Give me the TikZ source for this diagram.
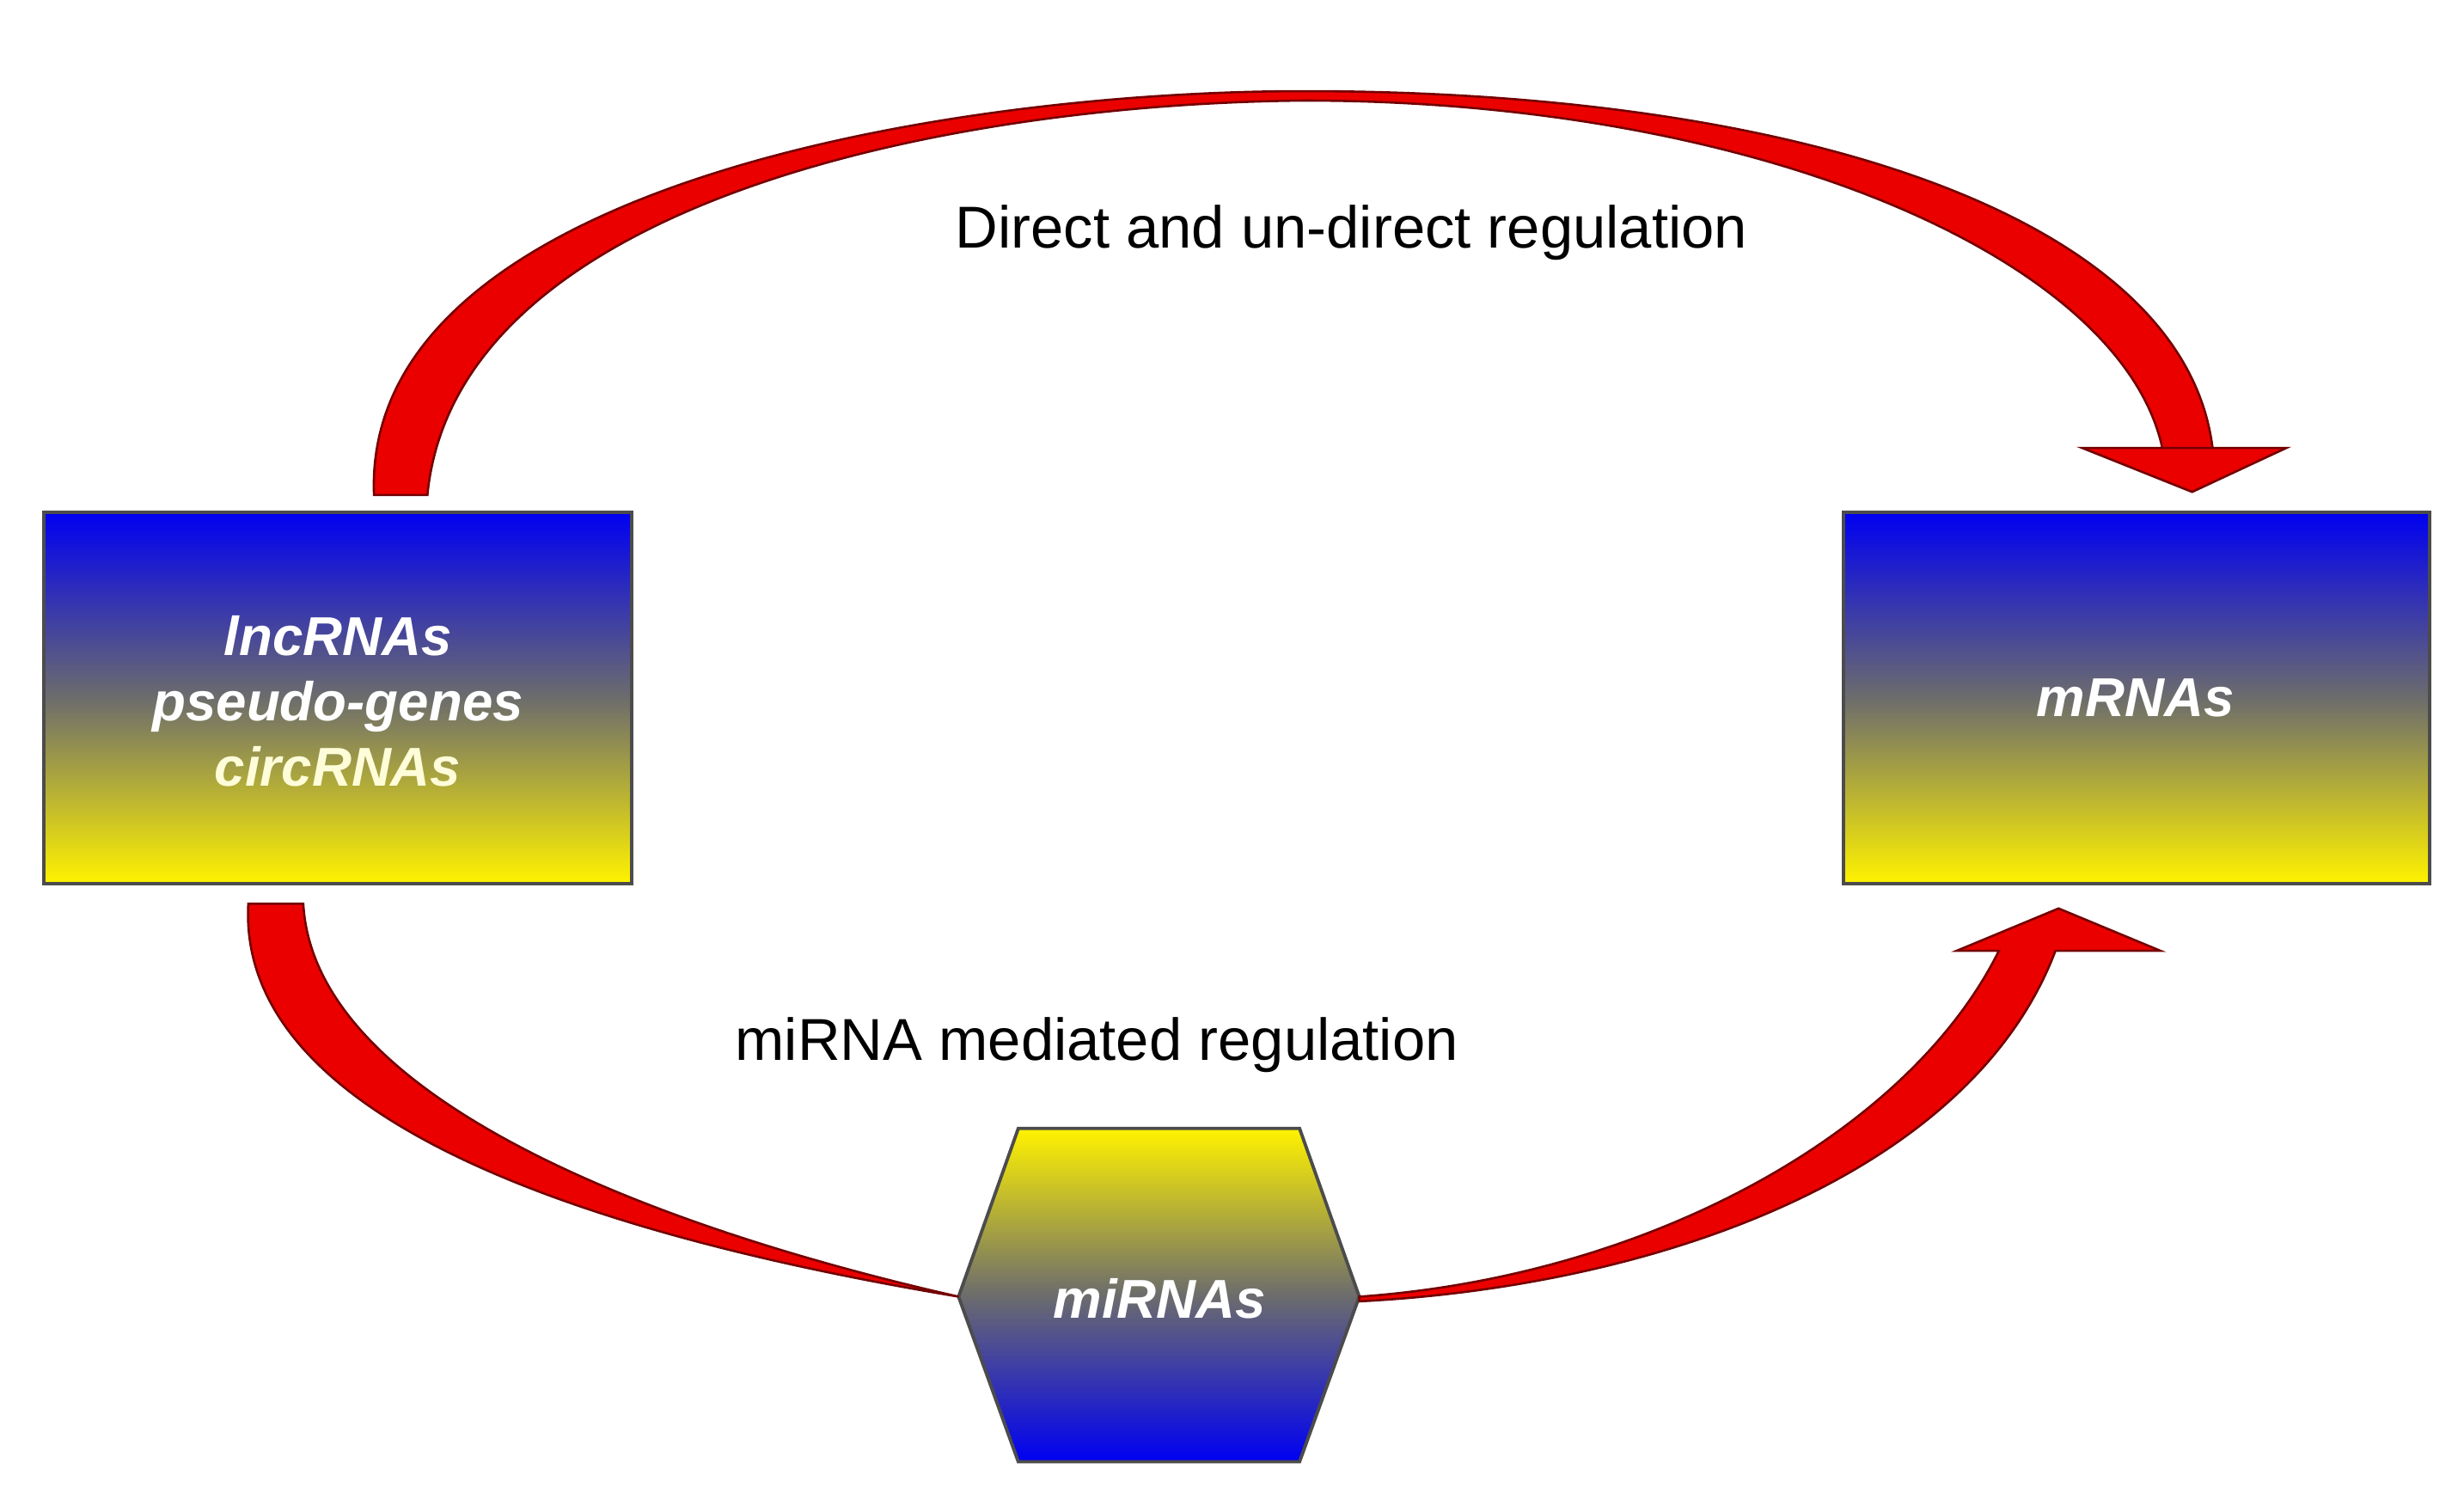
\documentclass[tikz,border=0pt]{standalone}
\usepackage{fontspec}
\setmainfont{Liberation Sans}
\begin{document}
\begin{tikzpicture}[x=0.01cm,y=-0.01cm,
  box/.style={draw=black!70,line width=0.6pt,top color=blue!95!black,bottom color=yellow!95!red,middle color=gray!85!black},
  hex/.style={draw=black!70,line width=0.6pt,top color=yellow!95!red,bottom color=blue!95!black,middle color=gray!85!black},
  arr/.style={fill=red!92!black,draw=red!45!black,line width=0.4pt},
  lab/.style={font=\fontsize{10.7pt}{12pt}\selectfont,text=black},
  btxt/.style={font=\fontsize{9.9pt}{11.8pt}\selectfont\bfseries\itshape,text=white,align=center}]
\useasboundingbox (0,0) rectangle (1568,958);
\fill[white] (0,0) rectangle (1568,958);
% boxes
\path[box] (28,326) rectangle (402,562);
\path[box] (1173,326) rectangle (1546,562);
\path[hex] (648,718) -- (827,718) -- (865,825) -- (827,930) -- (648,930) -- (610,825) -- cycle;
% top arrow
\path[arr] (238,315) .. controls (230,120) and (600,58) .. (830,58)
  .. controls (1150,58) and (1390,140) .. (1408,285) -- (1325,285) -- (1395,313) -- (1455,285) -- (1376,285)
  .. controls (1350,165) and (1120,64) .. (830,64)
  .. controls (600,66) and (290,130) .. (272,315) -- cycle;
% bottom arrows
\path[arr] (158,575) .. controls (150,720) and (400,790) .. (610,825)
  .. controls (420,782) and (200,700) .. (193,575) -- cycle;
\path[arr] (865,825) .. controls (1050,812) and (1215,720) .. (1272,605) -- (1245,605) -- (1310,578) -- (1375,605) -- (1308,605)
  .. controls (1255,745) and (1060,818) .. (865,828) -- cycle;
% texts
\node[lab] (t1) at (860,148) {Direct and un-direct regulation};
\node[lab] (t2) at (698,665) {miRNA mediated regulation};
\node[btxt] (l) at (215,446) {lncRNAs\\pseudo-genes\\\textcolor{yellow!15}{circRNAs}};
\node[btxt] (r) at (1359,444) {mRNAs};
\node[btxt] (m) at (738,826) {miRNAs};
\end{tikzpicture}
\end{document}
